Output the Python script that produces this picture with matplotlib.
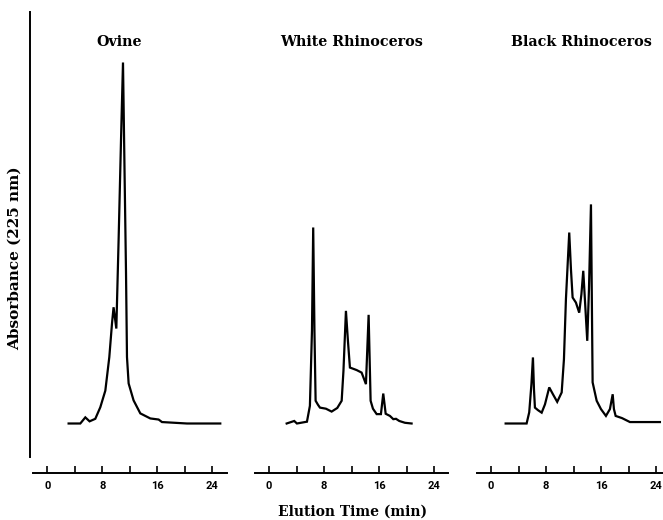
import numpy as np
import matplotlib.pyplot as plt
from matplotlib.ticker import MultipleLocator

# Elution time (min) and absorbance (arbitrary, baseline = 0)
t_ovine = [3.10, 4.80, 5.53, 6.15, 6.98, 7.71, 8.44, 9.02, 9.41, 9.64, 10.04,
           10.37, 10.72, 11.01, 11.24, 11.45, 11.59, 11.83, 12.55, 13.53,
           14.98, 16.19, 16.68, 20.32, 25.16]
a_ovine = [0.0, 0.0, 0.017, 0.006, 0.013, 0.045, 0.091, 0.184, 0.277, 0.322,
           0.263, 0.507, 0.784, 1.0, 0.692, 0.416, 0.184, 0.111, 0.064, 0.028,
           0.014, 0.011, 0.004, 0.0, 0.0]

t_white = [2.57, 3.67, 4.06, 5.52, 5.95, 6.25, 6.43, 6.61, 6.78, 7.12, 7.41,
           8.28, 9.11, 9.93, 10.57, 10.83, 11.19, 11.48, 11.77, 12.75, 13.47,
           13.81, 14.10, 14.49, 14.78, 15.12, 15.66, 16.28, 16.62, 16.97,
           17.59, 18.08, 18.47, 18.95, 19.77, 20.74]
a_white = [0.0, 0.007, 0.0, 0.005, 0.049, 0.257, 0.543, 0.257, 0.063, 0.052,
           0.044, 0.041, 0.033, 0.043, 0.063, 0.146, 0.312, 0.229, 0.155,
           0.148, 0.141, 0.124, 0.109, 0.301, 0.063, 0.041, 0.026, 0.026,
           0.083, 0.027, 0.021, 0.012, 0.013, 0.007, 0.002, 0.0]

t_black = [2.13, 5.18, 5.56, 5.88, 6.10, 6.25, 6.39, 6.83, 7.37, 7.85, 8.47,
           9.01, 9.63, 10.28, 10.61, 10.90, 11.38, 11.63, 11.87, 12.35, 12.83,
           13.15, 13.42, 13.66, 14.00, 14.25, 14.54, 14.78, 15.37, 15.99,
           16.72, 17.30, 17.70, 17.88, 18.13, 19.05, 20.21, 24.57]
a_black = [0.0, 0.0, 0.031, 0.109, 0.183, 0.095, 0.044, 0.037, 0.030, 0.053,
           0.100, 0.081, 0.060, 0.086, 0.178, 0.345, 0.529, 0.427, 0.349,
           0.335, 0.307, 0.358, 0.423, 0.343, 0.229, 0.372, 0.607, 0.114,
           0.063, 0.040, 0.021, 0.040, 0.081, 0.040, 0.021, 0.015, 0.004,
           0.004]

titles = ["Ovine", "White Rhinoceros", "Black Rhinoceros"]
traces = [(t_ovine, a_ovine), (t_white, a_white), (t_black, a_black)]
tick_labels = ["0", "8", "16", "24"]

W, H = 663, 520
fig = plt.figure(figsize=(W / 100, H / 100), dpi=100)

px_per_min = 6.875
x0, x1 = -2.05, 26.1
y0, y1 = -0.05, 1.1
px_per_abs = 361
base_px = 423.5           # pixel row of zero absorbance
bottom_px = base_px - y0 * px_per_abs
height_px = (y1 - y0) * px_per_abs
axis_px = 472.5           # pixel row of the time axis
zero_px = [47.3, 269.0, 491.0]
title_dx = [72, 83, 90]   # title centre relative to the 0 tick

for i in range(3):
    left_px = zero_px[i] + x0 * px_per_min
    ax = fig.add_axes([left_px / W, (H - bottom_px) / H,
                       (x1 - x0) * px_per_min / W, height_px / H])
    t, a = traces[i]
    ax.plot(t, a, color="black", lw=1.6, solid_joinstyle="miter")
    ax.set_xlim(x0, x1)
    ax.set_ylim(y0, y1)
    for s in ["left", "right", "top"]:
        ax.spines[s].set_visible(False)
    ax.spines["bottom"].set_position(("outward", (axis_px - bottom_px) * 0.72))
    ax.spines["bottom"].set_linewidth(1.4)
    ax.set_yticks([])
    ax.set_xticks([0, 8, 16, 24])
    ax.set_xticklabels(tick_labels, fontfamily="Roboto", fontweight="bold",
                       fontsize=8)
    ax.xaxis.set_minor_locator(MultipleLocator(4))
    ax.tick_params(axis="x", which="both", direction="in", length=5,
                   width=1.2, pad=6)
    ax.patch.set_visible(False)
    fig.text((zero_px[i] + title_dx[i]) / W, 1 - 42.5 / H, titles[i],
             ha="center", va="center", fontfamily="DejaVu Serif",
             fontweight="bold", fontsize=10.3)

# left absorbance axis (just a line, no ticks)
fig.add_artist(plt.Line2D([29.5 / W, 29.5 / W], [1 - 12 / H, 1 - 457 / H],
                          color="black", lw=1.4))
fig.text(15 / W, 1 - 258 / H, "Absorbance (225 nm)", rotation=90,
         ha="center", va="center", fontfamily="DejaVu Serif",
         fontweight="bold", fontsize=11)
fig.text(352.5 / W, 1 - 512 / H, "Elution Time (min)", ha="center",
         va="center", fontfamily="DejaVu Serif", fontweight="bold",
         fontsize=10)

fig.savefig("out.png", dpi=100)
